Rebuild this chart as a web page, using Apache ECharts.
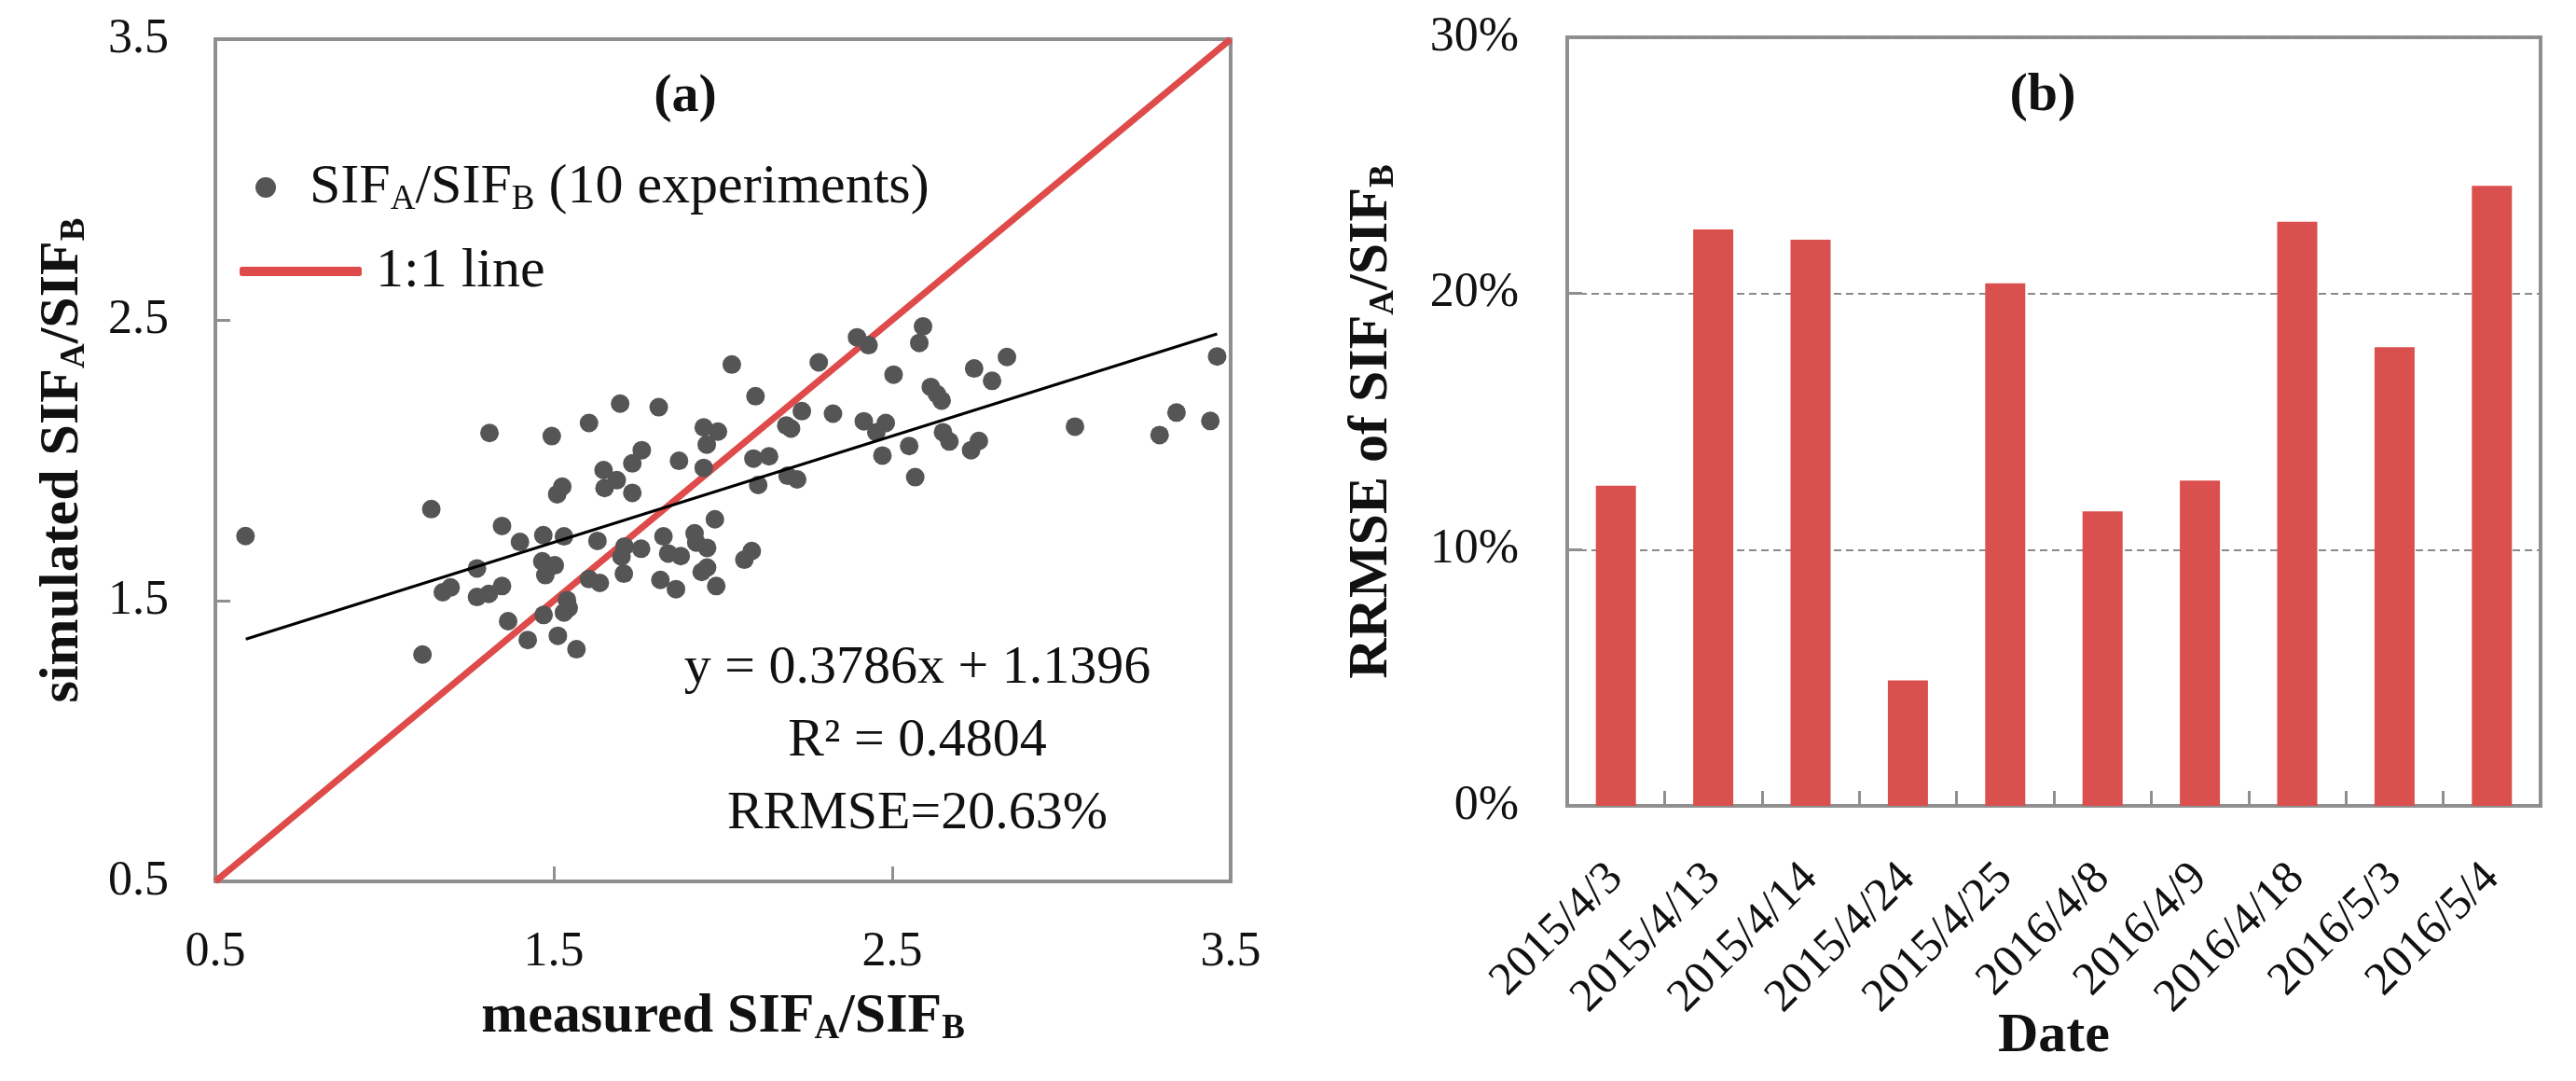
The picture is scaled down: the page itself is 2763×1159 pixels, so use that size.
<!DOCTYPE html>
<html>
<head>
<meta charset="utf-8">
<script src="https://cdn.jsdelivr.net/npm/echarts@6/dist/echarts.min.js"></script>
<style>
html,body{margin:0;padding:0;background:#fff;}
#chart{width:2763px;height:1159px;}
</style>
</head>
<body>
<div id="chart"></div>
<script>
// ---------- data ----------
const measured = [
1.138,1.310,1.494,1.604,1.696,1.810,1.943,1.952,1.943,1.870,1.760,1.732,1.732,1.647,1.686,1.650,1.525,1.510,1.347,1.400,
1.469,1.530,1.629,1.824,1.916,1.976,1.709,1.758,1.700,1.838,1.875,1.921,1.953,1.273,1.466,1.503,1.475,1.172,1.195,1.273,
1.308,1.347,1.604,1.636,1.707,1.815,1.861,1.937,1.953,1.980,1.365,1.470,1.539,1.544,1.530,1.423,1.512,1.567,1.112,
2.026,2.096,2.283,2.396,2.430,2.591,2.580,2.839,2.742,2.795,2.504,2.614,2.646,2.632,2.233,2.325,2.201,2.187,1.985,2.090,
2.136,2.104,2.191,2.219,2.416,2.481,2.453,2.471,2.550,2.568,2.650,2.669,2.756,2.733,2.063,2.085,
0.589,3.04,3.29,3.34,3.44,3.46
];
const simulated = [
1.826,2.097,2.086,2.133,2.202,2.189,2.117,2.056,1.973,1.998,2.036,1.989,1.884,1.965,1.929,1.901,1.906,1.879,1.766,1.709,
1.733,1.729,1.713,1.729,1.740,1.790,1.693,1.685,1.657,1.668,1.659,1.707,1.688,1.615,1.640,1.626,1.591,1.530,1.547,1.513,
1.524,1.552,1.577,1.563,1.596,1.574,1.541,1.602,1.618,1.552,1.427,1.449,1.502,1.474,1.458,1.360,1.375,1.327,1.308,
2.341,2.228,2.349,2.438,2.410,2.477,2.418,2.368,2.327,2.283,2.305,2.261,2.213,2.236,2.175,2.166,2.113,2.124,2.102,2.006,
2.014,1.912,1.945,1.932,2.139,2.133,2.100,2.017,2.051,1.940,2.100,2.067,2.069,2.036,1.646,1.677,
1.73,2.12,2.09,2.17,2.14,2.37
];
const fitLineX = [0.59, 3.46];
const fitLineY = [1.363, 2.450];
const oneToOneX = [0.5, 3.5];
const oneToOneY = [0.5, 3.5];
const scatterTicks = [0.5, 1.5, 2.5, 3.5];

const dates = ['2015/4/3','2015/4/13','2015/4/14','2015/4/24','2015/4/25','2016/4/8','2016/4/9','2016/4/18','2016/5/3','2016/5/4'];
const rrmse = [12.5, 22.5, 22.1, 4.9, 20.4, 11.5, 12.7, 22.8, 17.9, 24.2];
const barTicks = [0, 10, 20, 30];

const statLines = ['y = 0.3786x + 1.1396', 'R\u00B2 = 0.4804', 'RRMSE=20.63%'];

// ---------- styles ----------
const SERIF = '"Liberation Serif", "DejaVu Serif", serif';
const AXIS_GRAY = '#8f8f8f';
const RED = '#DE4B4A';
const BAR_RED = '#DA504E';
const DOT = '#555555';

function subRich(size, bold) {
  const w = bold ? 'bold' : 'normal';
  return {
    n: {fontFamily: SERIF, fontSize: size, fontWeight: w, color: '#111', lineHeight: 64, verticalAlign: 'middle'},
    s: {fontFamily: SERIF, fontSize: Math.round(size * 0.62), fontWeight: w, color: '#111', lineHeight: 22, verticalAlign: 'bottom'},
    g: {fontFamily: SERIF, fontSize: size, lineHeight: 64, width: 31},
    h: {fontFamily: SERIF, fontSize: size, lineHeight: 64, width: 10}
  };
}

const tickLabelStyle = {fontFamily: SERIF, fontSize: 52, color: '#111'};

const chart = echarts.init(document.getElementById('chart'), null, {renderer: 'canvas'});

const scatterName = 'SIFA/SIFB (10 experiments)';
const lineName = '1:1 line';

const option = {
  backgroundColor: '#ffffff',
  animation: false,
  grid: [
    {left: 231, top: 42, width: 1089, height: 903, show: true, borderColor: AXIS_GRAY, borderWidth: 4, outerBoundsMode: 'none', containLabel: false},
    {left: 1681, top: 40, width: 1044, height: 824, show: true, borderColor: AXIS_GRAY, borderWidth: 4, outerBoundsMode: 'none', containLabel: false}
  ],
  legend: [
    {
      data: [scatterName],
      left: 274, top: 171, padding: 0,
      orient: 'vertical',
      itemWidth: 22, itemHeight: 22,
      icon: 'circle',
      selectedMode: false,
      formatter: () => '{g| }{n|SIF}{s|A}{n|/SIF}{s|B}{n| (10 experiments)}',
      textStyle: {rich: subRich(60, false)}
    },
    {
      data: [{name: lineName, icon: 'roundRect'}],
      left: 257, top: 261, padding: 0,
      itemWidth: 131, itemHeight: 10,
      selectedMode: false,
      formatter: () => '{h| }{n|1:1 line}',
      textStyle: {rich: subRich(60, false)}
    }
  ],
  xAxis: [
    {
      gridIndex: 0, type: 'value', min: 0.5, max: 3.5, interval: 0.5,
      name: '{n|measured SIF}{s|A}{n|/SIF}{s|B}', nameLocation: 'middle', nameGap: 113, nameMoveOverlap: false,
      nameTextStyle: {rich: subRich(60, true)},
      axisLine: {show: true, lineStyle: {color: AXIS_GRAY, width: 4}},
      axisTick: {show: true, inside: true, length: 16, customValues: scatterTicks, lineStyle: {color: AXIS_GRAY, width: 3}},
      axisLabel: Object.assign({margin: 50, customValues: scatterTicks,
        formatter: v => (Math.round(v * 2) % 2 === 1 ? v.toFixed(1) : '')}, tickLabelStyle),
      splitLine: {show: false}
    },
    {
      gridIndex: 1, type: 'category', data: dates,
      name: 'Date', nameLocation: 'middle', nameGap: 215, nameMoveOverlap: false,
      nameTextStyle: {fontFamily: SERIF, fontSize: 60, fontWeight: 'bold', color: '#111', lineHeight: 64},
      axisLine: {show: true, lineStyle: {color: AXIS_GRAY, width: 4}},
      axisTick: {show: true, inside: true, length: 16, alignWithLabel: false, lineStyle: {color: AXIS_GRAY, width: 3}},
      axisLabel: {rotate: 45, margin: 70, interval: 0, fontFamily: SERIF, fontSize: 50, color: '#111'}
    }
  ],
  yAxis: [
    {
      gridIndex: 0, type: 'value', min: 0.5, max: 3.5, interval: 0.5,
      name: '{n|simulated SIF}{s|A}{n|/SIF}{s|B}', nameLocation: 'middle', nameGap: 132, nameRotate: 90, nameMoveOverlap: false,
      nameTextStyle: {rich: subRich(60, true)},
      axisLine: {show: true, lineStyle: {color: AXIS_GRAY, width: 4}},
      axisTick: {show: true, inside: true, length: 16, customValues: scatterTicks, lineStyle: {color: AXIS_GRAY, width: 3}},
      axisLabel: Object.assign({margin: 50, customValues: scatterTicks,
        formatter: v => (Math.round(v * 2) % 2 === 1 ? v.toFixed(1) : '')}, tickLabelStyle),
      splitLine: {show: false}
    },
    {
      gridIndex: 1, type: 'value', min: 0, max: 30, interval: 10,
      name: '{n|RRMSE of SIF}{s|A}{n|/SIF}{s|B}', nameLocation: 'middle', nameGap: 178, nameRotate: 90, nameMoveOverlap: false,
      nameTextStyle: {rich: subRich(60, true)},
      axisLine: {show: true, lineStyle: {color: AXIS_GRAY, width: 4}},
      axisTick: {show: true, inside: true, length: 16, customValues: barTicks, lineStyle: {color: AXIS_GRAY, width: 3}},
      axisLabel: Object.assign({margin: 52, customValues: barTicks, formatter: '{value}%'}, tickLabelStyle),
      splitLine: {show: true, lineStyle: {color: '#8a8a8a', width: 2, type: [8, 5]}}
    }
  ],
  series: [
    {
      name: lineName, type: 'line', xAxisIndex: 0, yAxisIndex: 0,
      data: oneToOneX.map((x, i) => [x, oneToOneY[i]]),
      showSymbol: false, symbol: 'none', z: 2,
      color: RED, itemStyle: {color: RED},
      lineStyle: {color: RED, width: 7}
    },
    {
      name: scatterName, type: 'scatter', xAxisIndex: 0, yAxisIndex: 0,
      data: measured.map((x, i) => [x, simulated[i]]),
      symbol: 'circle', symbolSize: 20, z: 3,
      itemStyle: {color: DOT, opacity: 1}
    },
    {
      name: 'fit', type: 'line', xAxisIndex: 0, yAxisIndex: 0,
      data: fitLineX.map((x, i) => [x, fitLineY[i]]),
      showSymbol: false, symbol: 'none', z: 4,
      lineStyle: {color: '#000', width: 3}
    },
    {
      name: 'RRMSE', type: 'bar', xAxisIndex: 1, yAxisIndex: 1,
      data: rrmse, barWidth: 43,
      itemStyle: {color: BAR_RED}
    }
  ],
  graphic: [
    {type: 'text', position: [735, 104], style: {text: '(a)', fontFamily: SERIF, fontSize: 58, fontWeight: 'bold', fill: '#111', textAlign: 'center', textVerticalAlign: 'middle'}},
    {type: 'text', position: [2191, 103], style: {text: '(b)', fontFamily: SERIF, fontSize: 58, fontWeight: 'bold', fill: '#111', textAlign: 'center', textVerticalAlign: 'middle'}},
    {type: 'text', position: [984, 717], style: {text: statLines[0], fontFamily: SERIF, fontSize: 58, fill: '#111', textAlign: 'center', textVerticalAlign: 'middle'}},
    {type: 'text', position: [984, 795], style: {text: statLines[1], fontFamily: SERIF, fontSize: 58, fill: '#111', textAlign: 'center', textVerticalAlign: 'middle'}},
    {type: 'text', position: [984, 873], style: {text: statLines[2], fontFamily: SERIF, fontSize: 58, fill: '#111', textAlign: 'center', textVerticalAlign: 'middle'}}
  ]
};

chart.setOption(option);
</script>
</body>
</html>
